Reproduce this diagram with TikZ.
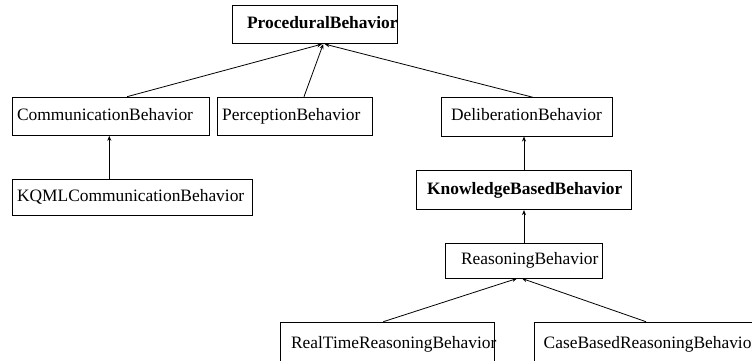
\documentclass[tikz,border=0pt]{standalone}
\usepackage{fontspec}
\setmainfont{Liberation Serif}
\usetikzlibrary{arrows.meta}
\begin{document}
\begin{tikzpicture}[x=1pt,y=-1pt,
  box/.style={draw, line width=0.8pt, anchor=north west, inner xsep=0pt, inner ysep=0pt,
    align=left, text height=12pt, text depth=4pt, font=\fontsize{17.4}{20}\selectfont},
  link/.style={line width=0.8pt, -{Stealth[length=5pt,width=4pt]}}]
\useasboundingbox (0,0) rectangle (752,360);
\clip (0,0) rectangle (752,360);
\node[box, text width=165pt, minimum height=38.6pt] (proc) at (231.7,4.7) {\hspace*{15pt}\mbox{\textbf{ProceduralBehavior}}};
\node[box, text width=197.3pt, minimum height=38.3pt] (comm) at (11.7,96.7) {\hspace*{5pt}\mbox{CommunicationBehavior}};
\node[box, text width=155pt, minimum height=38.3pt] (perc) at (216.7,96.7) {\hspace*{5pt}\mbox{PerceptionBehavior}};
\node[box, text width=171pt, minimum height=38.4pt] (delib) at (440.7,97.3) {\hspace*{10pt}\mbox{DeliberationBehavior}};
\node[box, text width=240pt, minimum height=35.7pt] (kqml) at (11.7,179.3) {\hspace*{5pt}\mbox{KQMLCommunicationBehavior}};
\node[box, text width=215pt, minimum height=39.3pt] (know) at (416,170) {\hspace*{10.7pt}\mbox{\textbf{KnowledgeBasedBehavior}}};
\node[box, text width=157.3pt, minimum height=34.4pt] (reas) at (445,243.3) {\hspace*{15.7pt}\mbox{ReasoningBehavior}};
\node[box, text width=214pt, minimum height=44pt] (rt) at (280,321.7) {\hspace*{10.7pt}\mbox{RealTimeReasoningBehavior}};
\node[box, text width=236pt, minimum height=44pt] (cb) at (534,321.7) {\hspace*{9.3pt}\mbox{CaseBasedReasoningBehavior}};
\draw[link] ([xshift=115.3pt]comm.north west) -- ([xshift=90.3pt]proc.south west);
\draw[link] ([xshift=87.3pt]perc.north west) -- ([xshift=91.5pt]proc.south west);
\draw[link] ([xshift=92.3pt]delib.north west) -- ([xshift=93pt]proc.south west);
\draw[link] ([xshift=97.6pt]kqml.north west) -- ([xshift=97.6pt]comm.south west);
\draw[link] ([xshift=108pt]know.north west) -- ([xshift=83.3pt]delib.south west);
\draw[link] ([xshift=79pt]reas.north west) -- ([xshift=108pt]know.south west);
\draw[link] ([xshift=103.3pt]rt.north west) -- ([xshift=72pt]reas.south west);
\draw[link] ([xshift=112pt]cb.north west) -- ([xshift=77pt]reas.south west);
\end{tikzpicture}
\end{document}
